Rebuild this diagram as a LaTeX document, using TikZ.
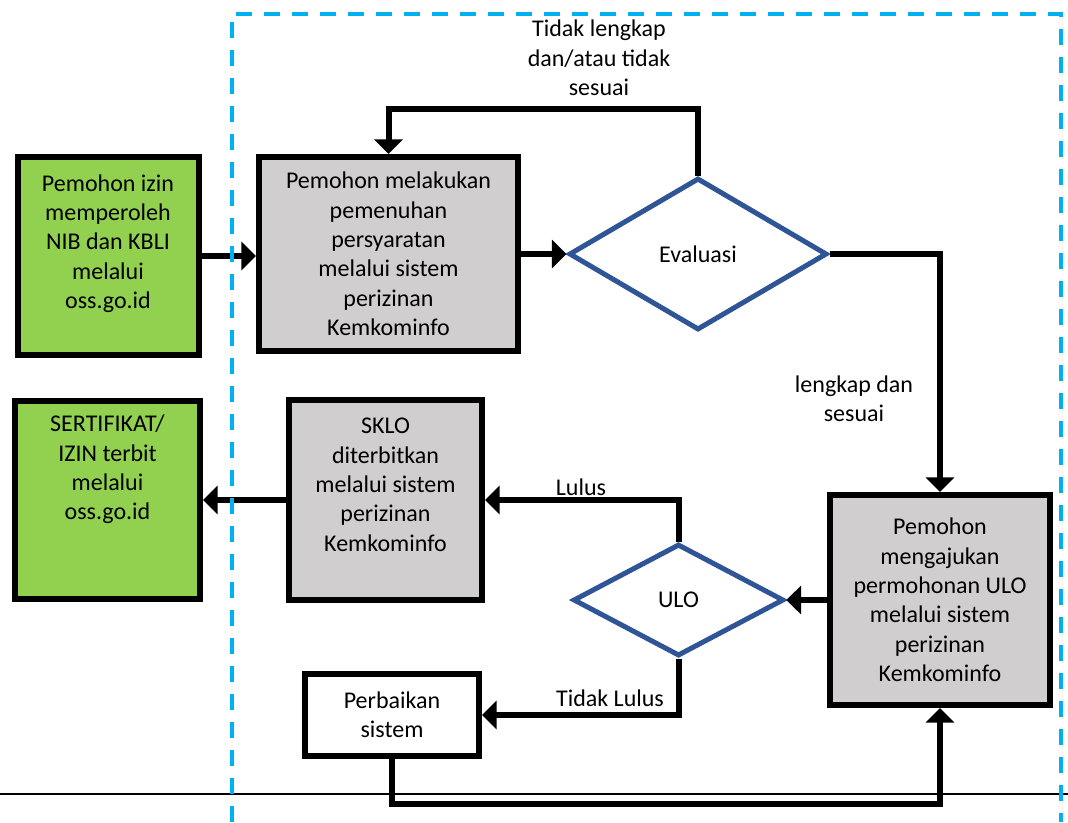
\documentclass[tikz,border=0pt]{standalone}
\usepackage{fontspec}
\setmainfont{Carlito}
\definecolor{ossgreen}{HTML}{92D050}
\definecolor{kgray}{HTML}{D0CECE}
\definecolor{evblue}{HTML}{2F5597}
\definecolor{frcyan}{HTML}{00B0F0}
\usetikzlibrary{shapes.geometric,arrows.meta}

\begin{document}
\begin{tikzpicture}[x=0.75pt, y=-0.75pt,
  every node/.style={font=\fontsize{18}{22}\selectfont, align=center},
  box/.style={draw, line width=4.5pt, inner sep=0pt},
  ossbox/.style={box, fill=ossgreen},
  kbox/.style={box, fill=kgray},
  decision/.style={diamond, draw=evblue, line width=3.75pt, inner sep=0pt},
  flow/.style={line width=4.5pt, -{Triangle[length=11pt,width=21pt]}}]
  \useasboundingbox (0,0) rectangle (1068,822);
  \fill[white] (0,0) rectangle (1068,822);

  % Separator
  \draw[line width=1.5pt] (0,794) -- (1068,794);

  % Boxes
  \node[ossbox, minimum width=135.75pt, minimum height=148.5pt, text depth=22pt] (izin) at (108,256)
    {Pemohon izin\\memperoleh\\NIB dan KBLI\\melalui\\oss.go.id};
  \node[kbox, minimum width=194.25pt, minimum height=145.5pt] (syarat) at (388.5,254)
    {Pemohon melakukan\\pemenuhan\\persyaratan\\melalui sistem\\perizinan\\Kemkominfo};
  \node[decision, minimum width=193.5pt, minimum height=114pt] (eval) at (698,254) {Evaluasi};
  \node[kbox, minimum width=165pt, minimum height=157.5pt] (ajukan) at (940,600)
    {Pemohon\\mengajukan\\permohonan ULO\\melalui sistem\\perizinan\\Kemkominfo};
  \node[decision, minimum width=158pt, minimum height=84pt] (ulo) at (678.5,600) {ULO};
  \node[kbox, minimum width=144.75pt, minimum height=150pt, text depth=23pt] (sklo) at (385.5,500)
    {SKLO\\diterbitkan\\melalui sistem\\perizinan\\Kemkominfo};
  \node[ossbox, minimum width=138.75pt, minimum height=148.5pt, text depth=49pt] (terbit) at (107.5,500)
    {SERTIFIKAT/\\IZIN terbit\\melalui\\oss.go.id};
  \node[box, fill=white, minimum width=130.5pt, minimum height=61.5pt] (perbaikan) at (392,715)
    {Perbaikan\\sistem};

  % Connectors
  \draw[flow] (izin.east) -- (izin.east -| syarat.west);
  \draw[flow] (syarat.east) -- (eval.west);
  \draw[flow] (eval.north) -- ++(0,-67) -| (syarat.north);
  \draw[flow] (eval.east) -| (ajukan.north);
  \draw[flow] (ajukan.west) -- (ulo.east);
  \draw[flow] (ulo.north) |- (sklo.east);
  \draw[flow] (sklo.west) -- (terbit.east);
  \draw[flow] (ulo.south) |- (perbaikan.east);
  \draw[flow] (perbaikan.south) -- ++(0,45) -| (ajukan.south);

  % Labels
  \node (kurang) at (599,58) {Tidak lengkap\\dan/atau tidak\\sesuai};
  \node (lengkap) at (854,399) {lengkap dan\\sesuai};
  \node (lulus) at (581,487) {Lulus};
  \node (gagal) at (610,698) {Tidak Lulus};

  % Frame
  \draw[frcyan, line width=3pt, dash pattern=on 12pt off 9pt]
    (232,822) -- (232,14) -- (1061,14) -- (1061,822);
\end{tikzpicture}
\end{document}
